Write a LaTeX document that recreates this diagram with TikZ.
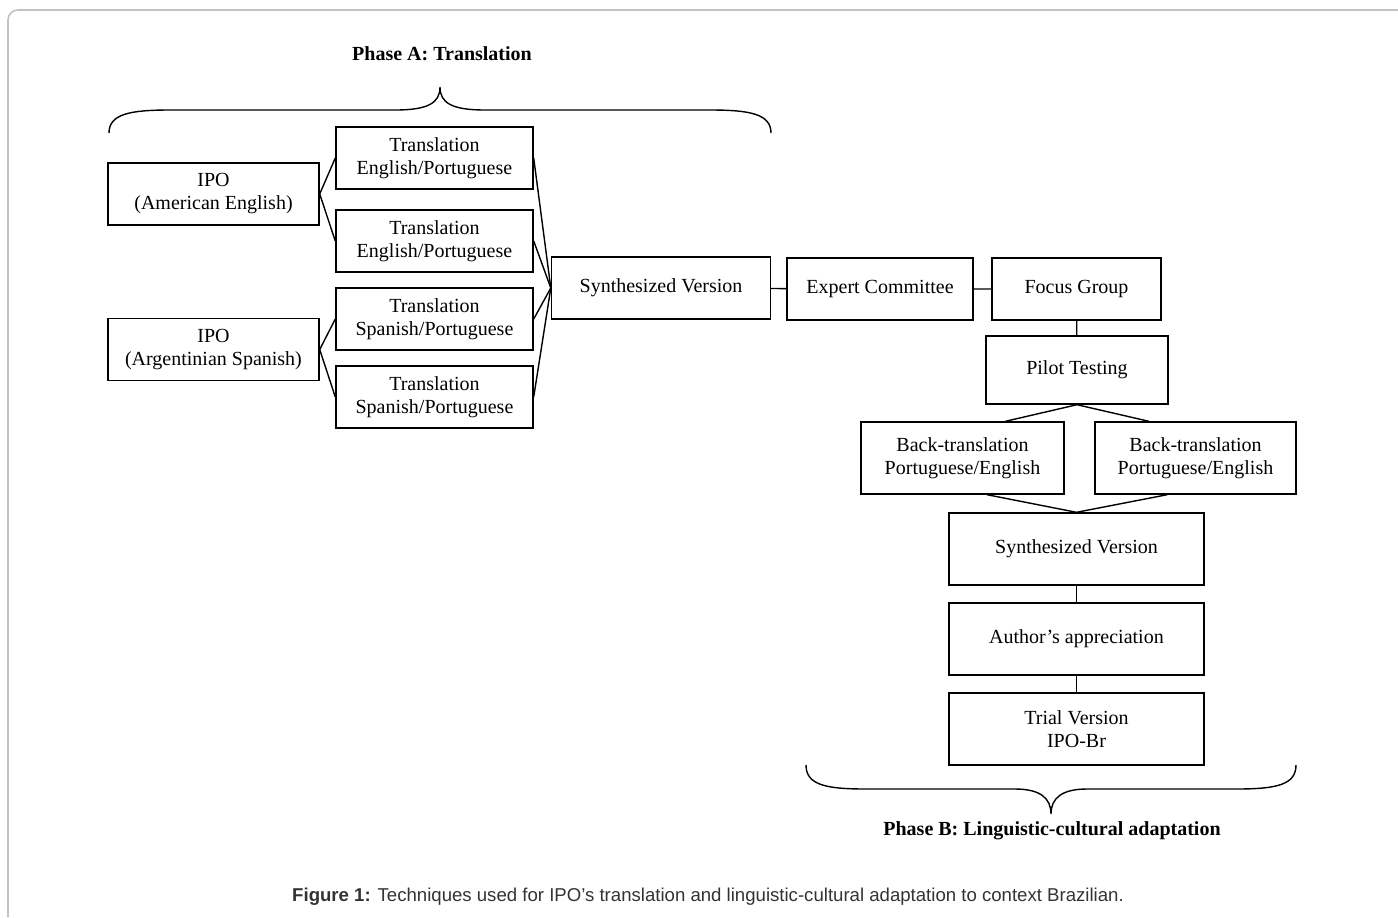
\documentclass[tikz,border=0pt]{standalone}
\usepackage{fontspec}
\setmainfont{Liberation Serif}
\newfontfamily\capfont{Liberation Sans}
\usetikzlibrary{positioning,calc}
\definecolor{framegray}{rgb}{0.76,0.76,0.76}
\definecolor{captiongray}{rgb}{0.2,0.2,0.2}
\tikzset{
  stage/.style={draw, line width=0.7pt, align=center, inner sep=1pt, font=\fontsize{10}{11.5}\selectfont},
  link/.style={line width=0.7pt},
  phase/.style={font=\fontsize{10}{12}\selectfont\bfseries},
}

\begin{document}
\begin{tikzpicture}[x=0.5pt, y=-0.5pt]
    \useasboundingbox (0,0) rectangle (1398,917);
    \draw[framegray, line width=0.8pt, rounded corners=5pt] (8,917) -- (8,10) -- (1398,10);

    \node at (442,54) [phase] (phaseA) {Phase A: Translation};
    \draw[link] (109,133) .. controls (109,114) and (130,110) .. (170,110) -- (395,110)
        .. controls (428,110) and (440,103) .. (440,87) .. controls (440,103) and (452,110) .. (485,110)
        -- (710,110) .. controls (750,110) and (771,114) .. (771,133);

    \node at (213.5,194) [stage, minimum width=105.5pt, minimum height=31pt] (ipoen) {IPO\\(American English)};
    \node at (213.5,349.5) [stage, minimum width=105.5pt, minimum height=31pt] (ipoes) {IPO\\(Argentinian Spanish)};

    \node at (434.5,158) [stage, minimum width=98.5pt, minimum height=31pt] (trone) {Translation\\English/Portuguese};
    \node at (434.5,241) [stage, minimum width=98.5pt, minimum height=31pt] (trtwo) {Translation\\English/Portuguese};
    \node at (434.5,319) [stage, minimum width=98.5pt, minimum height=31pt] (trthree) {Translation\\Spanish/Portuguese};
    \node at (434.5,397) [stage, minimum width=98.5pt, minimum height=31pt] (trfour) {Translation\\Spanish/Portuguese};

    \node at (661,288) [stage, minimum width=109.5pt, minimum height=31pt] (synone) {Synthesized Version};
    \node at (880,289) [stage, minimum width=93pt, minimum height=31pt] (expert) {Expert Committee};
    \node at (1076.5,289) [stage, minimum width=84.5pt, minimum height=31pt] (focus) {Focus Group};
    \node at (1077,370) [stage, minimum width=91pt, minimum height=34pt] (pilot) {Pilot Testing};
    \node at (962.5,458) [stage, minimum width=101.5pt, minimum height=36pt] (backone) {Back-translation\\Portuguese/English};
    \node at (1195.5,458) [stage, minimum width=100.5pt, minimum height=36pt] (backtwo) {Back-translation\\Portuguese/English};
    \node at (1076.5,549) [stage, minimum width=127.5pt, minimum height=36pt] (syntwo) {Synthesized Version};
    \node at (1076.5,639) [stage, minimum width=127.5pt, minimum height=36pt] (author) {Author's appreciation};
    \node at (1076.5,729) [stage, minimum width=127.5pt, minimum height=36pt] (trial) {Trial Version\\IPO-Br};

    \draw[link] (trone.west) -- (ipoen.east) -- (trtwo.west);
    \draw[link] (trthree.west) -- (ipoes.east) -- (trfour.west);
    \draw[link] (trone.east) -- (synone.west) -- (trfour.east);
    \draw[link] (trtwo.east) -- (synone.west) -- (trthree.east);
    \draw[link] (synone) -- (expert) -- (focus);
    \draw[link] (focus) -- (pilot);
    \draw[link] ($(backone.north west)!0.71!(backone.north east)$) -- (pilot.south) -- ($(backtwo.north west)!0.27!(backtwo.north east)$);
    \draw[link] ($(backone.south west)!0.62!(backone.south east)$) -- (syntwo.north) -- ($(backtwo.south west)!0.36!(backtwo.south east)$);
    \draw[link] (syntwo) -- (author) -- (trial);

    \draw[link] (806,765) .. controls (806,785) and (826,789) .. (866,789) -- (1015,789)
        .. controls (1040,789) and (1051,798) .. (1051,814) .. controls (1051,798) and (1062,789) .. (1087,789)
        -- (1236,789) .. controls (1276,789) and (1296,785) .. (1296,765);
    \node at (1052,831) [phase] (phaseB) {Phase B: Linguistic-cultural adaptation};

    \node at (708,897) [font=\capfont\fontsize{9.3}{11}\selectfont, text=captiongray] (caption) {\textbf{Figure 1:} Techniques used for IPO’s translation and linguistic-cultural adaptation to context Brazilian.};
\end{tikzpicture}
\end{document}
